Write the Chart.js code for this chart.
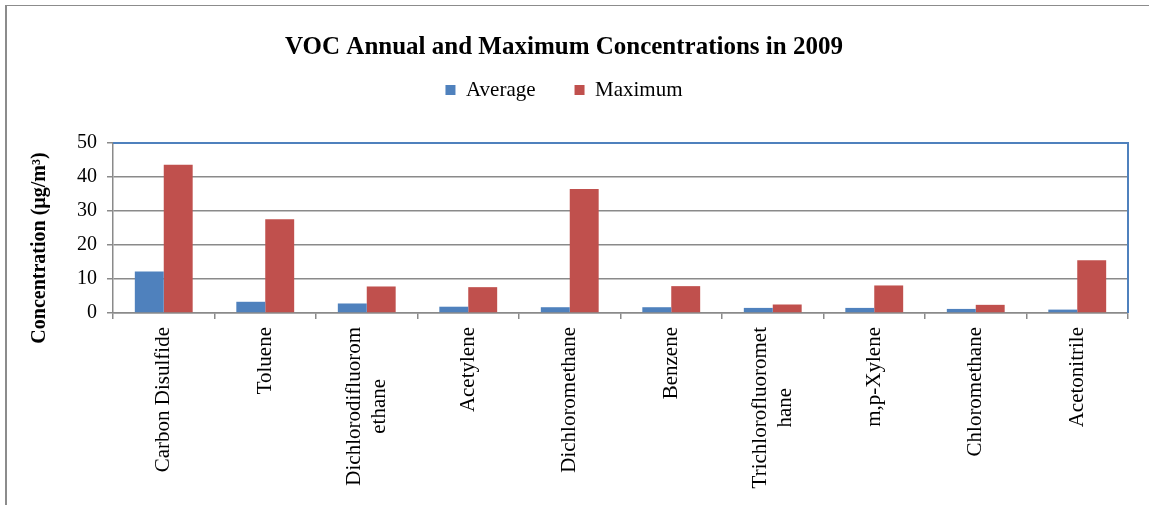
<!DOCTYPE html>
<html>
<head>
<meta charset="utf-8">
<script src="https://cdn.jsdelivr.net/npm/chart.js@4/dist/chart.umd.min.js"></script>
<style>
  body { margin: 0; background: #fff; }
</style>
</head>
<body>
<canvas id="vocChart" width="1149" height="505"></canvas>
<script>
const compounds = [
  "Carbon Disulfide",
  "Toluene",
  ["Dichlorodifluorom", "ethane"],
  "Acetylene",
  "Dichloromethane",
  "Benzene",
  ["Trichlorofluoromet", "hane"],
  "m,p-Xylene",
  "Chloromethane",
  "Acetonitrile",
];
const average = [12.2, 3.3, 2.8, 1.85, 1.7, 1.7, 1.5, 1.5, 1.2, 1.0];
const maximum = [43.6, 27.6, 7.8, 7.6, 36.5, 7.9, 2.5, 8.1, 2.4, 15.5];
const yTicks = [0, 10, 20, 30, 40, 50];

const serif = '"Liberation Serif", "Times New Roman", serif';
Chart.defaults.font.family = serif;
Chart.defaults.color = "#000";

const gridGrey = "#8a8a8a";
const plotBlue = "#4F81BD";
const labelFont = 21;
const labelLine = 25;

// outer frame, blue plot border, y title, centred multi-line x labels
const decorations = {
  id: "decorations",
  beforeDraw(chart) {
    const c = chart.ctx;
    c.save();
    c.fillStyle = "#fff";
    c.fillRect(0, 0, chart.width, chart.height);
    c.fillStyle = "#8c8c8c";
    c.fillRect(5, 5, 2, chart.height - 5);
    c.fillRect(5, 5, chart.width - 5, 1);
    c.restore();
  },
  beforeDatasetsDraw(chart) {
    const { ctx: c, chartArea: a } = chart;
    c.save();
    c.strokeStyle = plotBlue;
    c.lineWidth = 2;
    c.beginPath();
    c.moveTo(a.left, a.top);
    c.lineTo(a.right, a.top);
    c.lineTo(a.right, a.bottom);
    c.stroke();
    c.restore();
  },
  afterDraw(chart) {
    const c = chart.ctx;
    c.save();
    c.translate(40, 248);
    c.rotate(-Math.PI / 2);
    c.font = "bold 20px " + serif;
    c.fillStyle = "#000";
    c.textAlign = "center";
    c.textBaseline = "middle";
    c.fillText("Concentration (µg/m³)", 0, 0);
    c.restore();

    // x labels: rotated, lines centred on each other like the original
    const xs = chart.scales.x;
    const top = xs.top + 6 + 8;
    c.save();
    c.font = labelFont + "px " + serif;
    c.fillStyle = "#000";
    c.textAlign = "center";
    c.textBaseline = "middle";
    compounds.forEach((lab, i) => {
      const lines = Array.isArray(lab) ? lab : [lab];
      const w = Math.max(...lines.map((l) => c.measureText(l).width));
      const px = xs.getPixelForTick(i);
      c.save();
      c.translate(px, top);
      c.rotate(-Math.PI / 2);
      lines.forEach((l, j) => {
        c.fillText(l, -w / 2, (j - (lines.length - 1) / 2) * labelLine);
      });
      c.restore();
    });
    c.restore();
  },
};

new Chart(document.getElementById("vocChart").getContext("2d"), {
  type: "bar",
  data: {
    labels: compounds,
    datasets: [
      { label: "Average", data: average, backgroundColor: "#4F81BD" },
      { label: "Maximum", data: maximum, backgroundColor: "#C0504D" },
    ],
  },
  options: {
    responsive: false,
    animation: false,
    layout: { padding: { top: 0, left: 0, right: 21, bottom: 0 } },
    datasets: { bar: { barPercentage: 1, categoryPercentage: 0.57 } },
    plugins: {
      title: {
        display: true,
        text: "VOC Annual and Maximum Concentrations in 2009",
        font: { size: 25, weight: "bold", lineHeight: 1 },
        padding: { top: 35, bottom: -19.5 },
      },
      legend: {
        labels: {
          boxWidth: 10,
          boxHeight: 10,
          padding: 39,
          font: { size: 21 },
        },
      },
      subtitle: {
        // spacer between legend and plot
        display: true,
        text: "",
        weight: 500,
        font: { size: 1, lineHeight: 1 },
        padding: { top: 31.5, bottom: 0 },
      },
      tooltip: { enabled: false },
    },
    scales: {
      x: {
        grid: {
          drawOnChartArea: false,
          drawTicks: true,
          tickLength: 6,
          color: gridGrey,
          lineWidth: 1.5,
        },
        border: { color: gridGrey, width: 1.5 },
        ticks: {
          minRotation: 90,
          maxRotation: 90,
          padding: 8,
          font: { size: labelFont },
          color: "rgba(0,0,0,0)", // drawn by the plugin above
        },
        afterFit(scale) {
          scale.height = 192;
        },
      },
      y: {
        min: 0,
        max: 50,
        afterBuildTicks(scale) {
          scale.ticks = yTicks.map((v) => ({ value: v }));
        },
        grid: { color: gridGrey, lineWidth: 1.5, tickLength: 6 },
        border: { color: gridGrey, width: 1.5 },
        ticks: { padding: 10, font: { size: 20 }, color: "#000" },
        afterFit(scale) {
          scale.width = 113;
        },
      },
    },
  },
  plugins: [decorations],
});
</script>
</body>
</html>
